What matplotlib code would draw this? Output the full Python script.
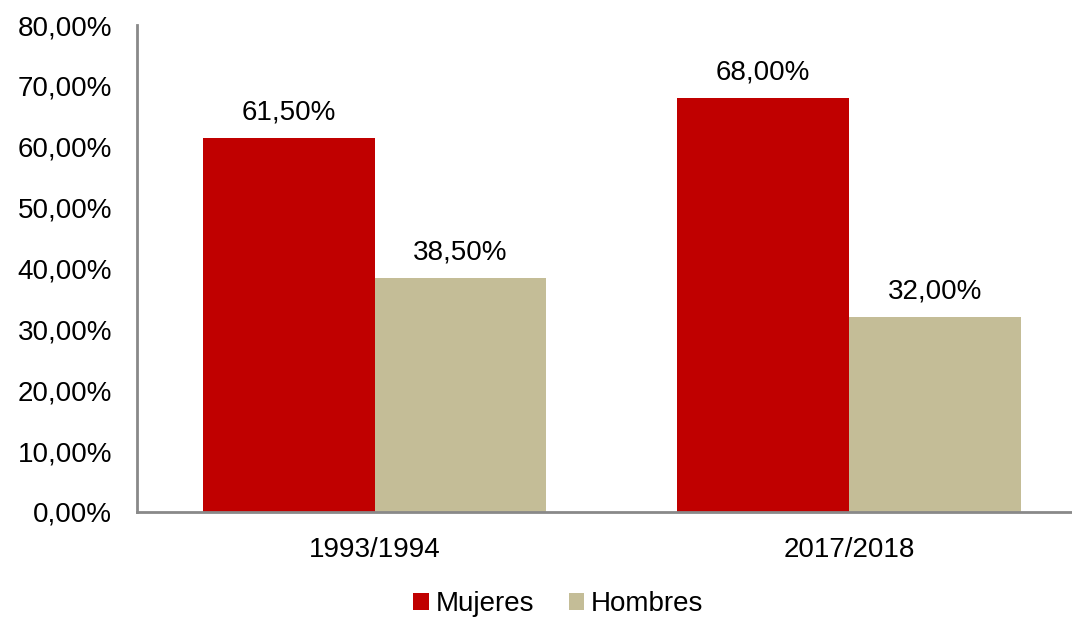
import matplotlib.pyplot as plt
import numpy as np

periods = ["1993/1994", "2017/2018"]
mujeres = [61.5, 68.0]
hombres = [38.5, 32.0]
yticks = [0, 10, 20, 30, 40, 50, 60, 70, 80]

plt.rcParams['font.family'] = ['Liberation Sans', 'DejaVu Sans']
plt.rcParams['font.size'] = 20

def pct(v):
    return f"{v:.2f}%".replace(".", ",")

fig = plt.figure(figsize=(10.72, 6.19), dpi=100)
ax = fig.add_axes([0.1278, 0.1729, 0.8722, 0.7867])

x = np.arange(len(periods))
w = 0.362
b1 = ax.bar(x - w / 2, mujeres, w, color="#C00000", label="Mujeres")
b2 = ax.bar(x + w / 2, hombres, w, color="#C4BD97", label="Hombres")

for bars, vals in ((b1, mujeres), (b2, hombres)):
    for r, v in zip(bars, vals):
        ax.annotate(pct(v), (r.get_x() + r.get_width() / 2, v),
                    xytext=(0, 9), textcoords="offset points",
                    ha="center", va="bottom")

ax.set_xlim(-0.501, 1.47)
ax.set_ylim(0, 80)
ax.set_yticks(yticks)
ax.set_yticklabels([pct(v) for v in yticks])
ax.set_xticks(x)
ax.set_xticklabels(periods)
ax.tick_params(length=0)
ax.tick_params(axis="y", pad=18)
ax.tick_params(axis="x", pad=18)

for s in ("top", "right"):
    ax.spines[s].set_visible(False)
for s in ("left", "bottom"):
    ax.spines[s].set_color("#898989")
    ax.spines[s].set_linewidth(2)

fig.legend(handles=[b1, b2], loc="center", bbox_to_anchor=(0.521, 0.024),
           ncol=2, frameon=False, handlelength=0.55, handleheight=0.55,
           handletextpad=0.25, columnspacing=1.25)

fig.savefig("out.png", dpi=100)
